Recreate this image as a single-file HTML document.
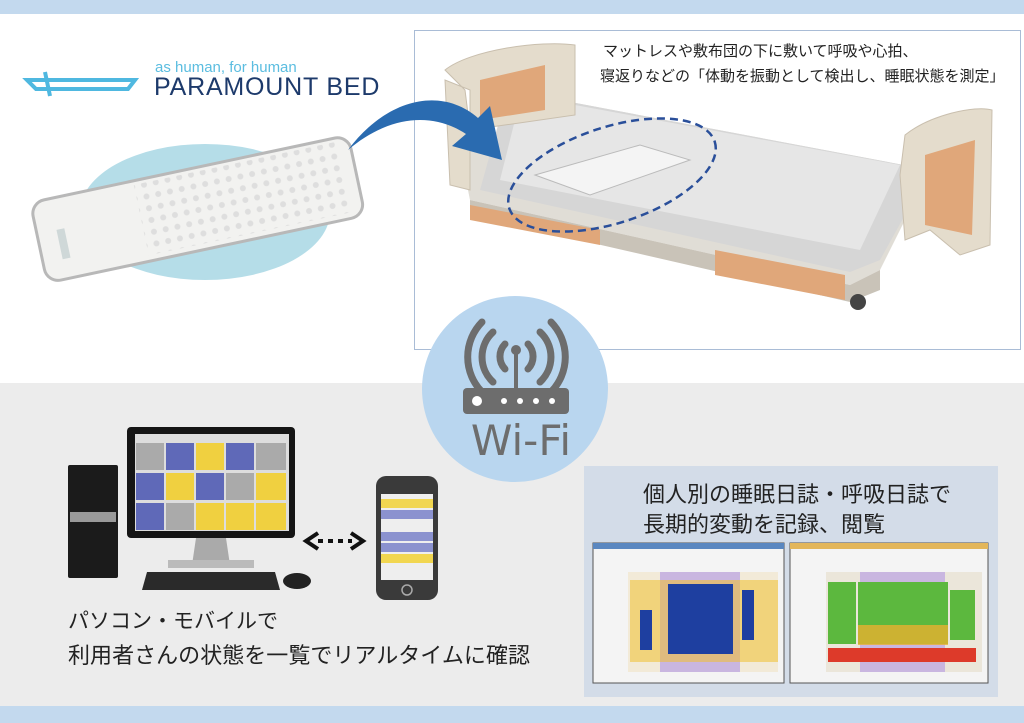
<!DOCTYPE html>
<html><head><meta charset="utf-8"><style>
body{margin:0;width:1024px;height:723px;overflow:hidden;background:#fff;font-family:"Liberation Sans","Noto Sans CJK JP",sans-serif}
svg{position:absolute;left:0;top:0}
</style></head><body>
<svg width="1024" height="723" viewBox="0 0 1024 723" xmlns="http://www.w3.org/2000/svg" font-family="Liberation Sans, Noto Sans CJK JP, sans-serif">
<defs>
<pattern id="dots" width="12" height="12" patternUnits="userSpaceOnUse"><circle cx="6" cy="6" r="3" fill="#dcdcdc"/></pattern>
</defs>
<rect x="0" y="0" width="1024" height="14" fill="#c3d9ee"/>
<rect x="0" y="383" width="1024" height="323" fill="#ececec"/>
<rect x="0" y="706" width="1024" height="17" fill="#c3d9ee"/>

<!-- logo -->
<g fill="none" stroke="#4fb8e0" stroke-width="4">
<path d="M27 80 L135 80 L128 89 L36 89 Z"/><path d="M45 72 L50 96"/>
</g>
<text x="155" y="72" font-size="15" fill="#5bbde0">as human, for human</text>
<text x="154" y="95" font-size="25" fill="#1d3a6b" letter-spacing="0.8">PARAMOUNT BED</text>

<!-- sensor pad -->
<ellipse cx="205" cy="212" rx="125" ry="68" fill="#b5dde8"/>
<g transform="rotate(-12 198 208)">
<rect x="35" y="168" width="325" height="82" rx="14" fill="#f2f2f0" stroke="#b8b8b8" stroke-width="3"/>
<rect x="140" y="172" width="210" height="72" fill="url(#dots)" opacity="0.9"/>
<rect x="55" y="200" width="8" height="30" fill="#cfd8d8"/>
</g>

<!-- bed box -->
<rect x="414.5" y="30.5" width="606" height="319" fill="#fff" stroke="#a9bcd6"/>
<text x="603" y="56" font-size="15" fill="#222">マットレスや敷布団の下に敷いて呼吸や心拍、</text>
<text x="600" y="81" font-size="15" fill="#222">寝返りなどの「体動を振動として検出し、睡眠状態を測定」</text>
<!-- bed shape -->
<polygon points="460,150 560,100 930,170 880,270 850,285 470,200" fill="#e0ddd6"/>
<polygon points="470,200 850,285 880,270 880,290 850,302 470,215" fill="#c9c3b8"/>
<polygon points="500,118 560,100 930,170 880,260 850,272 480,190" fill="#d6d6d6"/>
<polygon points="515,120 575,105 900,165 860,250 500,180" fill="#e6e6e6"/>
<path d="M445 80 L450 185 L470 190 L470 90 Z M445 70 C470 50 540 40 575 45 L575 115 L470 130 L465 90 Z" fill="#e4dccc" stroke="#c9bfae"/>
<polygon points="480,80 545,65 545,110 480,120" fill="#e0a77a"/>
<path d="M900 175 L905 135 C930 115 975 105 992 110 L990 245 L960 255 L930 230 L905 240 Z" fill="#e4dccc" stroke="#c9bfae"/>
<polygon points="925,155 975,140 972,235 925,225" fill="#e0a77a"/>
<polygon points="715,250 845,275 845,300 715,275" fill="#e0a77a"/>
<polygon points="470,205 600,230 600,245 470,220" fill="#e0a77a"/>
<circle cx="858" cy="302" r="8" fill="#444"/>
<polygon points="535,175 640,145 690,160 590,195" fill="#f4f4f4" stroke="#bbb"/>
<ellipse cx="612" cy="175" rx="108" ry="48" transform="rotate(-18 612 175)" fill="none" stroke="#2a4f9a" stroke-width="2.5" stroke-dasharray="8,5"/>

<!-- arrow -->
<path d="M348 150 C385 100 440 85 478 118 L490 106 L502 160 L452 146 L466 134 C430 110 385 118 348 150 Z" fill="#2a6bb0"/>

<!-- wifi -->
<circle cx="515" cy="389" r="93" fill="#b9d6ef"/>
<g fill="none" stroke="#6d6d6d" stroke-width="7" stroke-linecap="round">
<path d="M505 344 a18 18 0 0 0 0 25"/><path d="M528 344 a18 18 0 0 1 0 25"/>
<path d="M493 332 a34 34 0 0 0 0 50"/><path d="M540 332 a34 34 0 0 1 0 50"/>
<path d="M482 322 a50 50 0 0 0 0 70"/><path d="M551 322 a50 50 0 0 1 0 70"/>
</g>
<line x1="516" y1="350" x2="516" y2="390" stroke="#6d6d6d" stroke-width="4"/>
<circle cx="516" cy="350" r="5" fill="#6d6d6d"/>
<rect x="463" y="388" width="106" height="26" rx="4" fill="#6d6d6d"/>
<circle cx="477" cy="401" r="5" fill="#fff"/>
<g fill="#fff"><circle cx="504" cy="401" r="3"/><circle cx="520" cy="401" r="3"/><circle cx="536" cy="401" r="3"/><circle cx="552" cy="401" r="3"/></g>
<text x="521" y="455" font-size="42" fill="#6d6d6d" text-anchor="middle" font-family="DejaVu Sans, sans-serif">Wi-Fi</text>

<!-- PC -->
<rect x="68" y="465" width="50" height="113" rx="2" fill="#1b1b1b"/>
<rect x="70" y="512" width="46" height="10" fill="#999"/>
<rect x="127" y="427" width="168" height="111" rx="4" fill="#151515"/>
<rect x="135" y="434" width="154" height="97" fill="#ddd"/>
<g>
<rect x="136" y="443" width="28" height="27" fill="#aaa"/><rect x="166" y="443" width="28" height="27" fill="#5f69b8"/><rect x="196" y="443" width="28" height="27" fill="#f0d040"/><rect x="226" y="443" width="28" height="27" fill="#5f69b8"/><rect x="256" y="443" width="30" height="27" fill="#aaa"/>
<rect x="136" y="473" width="28" height="27" fill="#5f69b8"/><rect x="166" y="473" width="28" height="27" fill="#f0d040"/><rect x="196" y="473" width="28" height="27" fill="#5f69b8"/><rect x="226" y="473" width="28" height="27" fill="#aaa"/><rect x="256" y="473" width="30" height="27" fill="#f0d040"/>
<rect x="136" y="503" width="28" height="27" fill="#5f69b8"/><rect x="166" y="503" width="28" height="27" fill="#aaa"/><rect x="196" y="503" width="28" height="27" fill="#f0d040"/><rect x="226" y="503" width="28" height="27" fill="#f0d040"/><rect x="256" y="503" width="30" height="27" fill="#f0d040"/>
</g>
<polygon points="196,538 226,538 230,565 192,565" fill="#aaa"/>
<rect x="168" y="560" width="86" height="8" fill="#bbb"/>
<polygon points="147,572 275,572 280,590 142,590" fill="#2a2a2a"/>
<ellipse cx="297" cy="581" rx="14" ry="8" fill="#222"/>
<!-- dashed arrows -->
<path d="M318 533 L306 541 L318 549" fill="none" stroke="#111" stroke-width="4"/>
<path d="M351 533 L363 541 L351 549" fill="none" stroke="#111" stroke-width="4"/>
<line x1="318" y1="541" x2="352" y2="541" stroke="#111" stroke-width="4" stroke-dasharray="5,5"/>
<!-- phone -->
<rect x="376" y="476" width="62" height="124" rx="10" fill="#3a3a3a"/>
<rect x="381" y="494" width="52" height="86" fill="#eee"/>
<g><rect x="381" y="499" width="52" height="9" fill="#f1d650"/><rect x="381" y="510" width="52" height="9" fill="#8b92cf"/><rect x="381" y="532" width="52" height="9" fill="#8b92cf"/><rect x="381" y="543" width="52" height="9" fill="#8b92cf"/><rect x="381" y="554" width="52" height="9" fill="#f1d650"/></g>
<circle cx="407" cy="590" r="5" fill="none" stroke="#aaa" stroke-width="1.5"/>

<text x="68" y="628" font-size="21" fill="#222">パソコン・モバイルで</text>
<text x="68" y="663" font-size="22" fill="#222" textLength="462">利用者さんの状態を一覧でリアルタイムに確認</text>

<!-- right panel -->
<rect x="584" y="466" width="414" height="231" fill="#d3dce8"/>
<text x="643" y="502" font-size="22" fill="#222">個人別の睡眠日誌・呼吸日誌で</text>
<text x="643" y="532" font-size="22" fill="#222">長期的変動を記録、閲覧</text>
<rect x="593" y="543" width="191" height="140" fill="#f4f4f4" stroke="#555"/>
<rect x="593" y="543" width="191" height="6" fill="#5a87c0"/>
<rect x="628" y="572" width="150" height="100" fill="#f2ead8"/>
<rect x="660" y="572" width="80" height="100" fill="#c9b6e0"/>
<g fill="#f0c030"><rect x="630" y="580" width="148" height="82" opacity="0.55"/></g>
<g fill="#1e3fa0"><rect x="668" y="584" width="65" height="70"/><rect x="640" y="610" width="12" height="40"/><rect x="742" y="590" width="12" height="50"/></g>
<rect x="790" y="543" width="198" height="140" fill="#f4f4f4" stroke="#555"/>
<rect x="790" y="543" width="198" height="6" fill="#e3b65a"/>
<rect x="826" y="572" width="156" height="100" fill="#ebe6da"/>
<rect x="860" y="572" width="85" height="100" fill="#c9b6e0"/>
<g fill="#5cb83e"><rect x="828" y="582" width="28" height="62"/><rect x="858" y="582" width="90" height="62"/><rect x="950" y="590" width="25" height="50"/></g>
<g fill="#dd3a2a"><rect x="828" y="648" width="148" height="14"/></g>
<rect x="858" y="625" width="90" height="20" fill="#e8b030" opacity="0.8"/>
</svg>
</body></html>
